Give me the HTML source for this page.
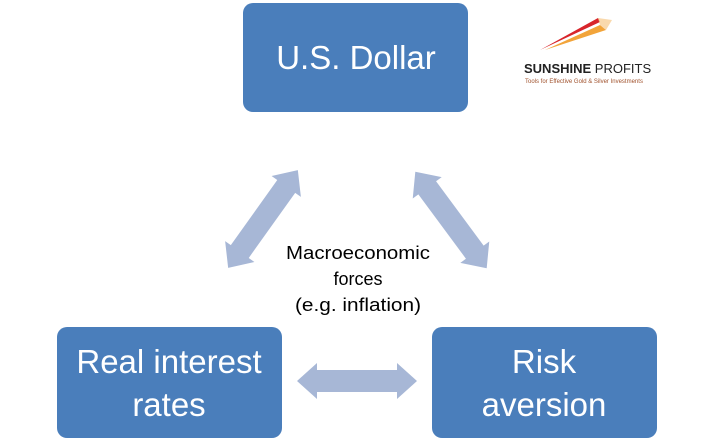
<!DOCTYPE html>
<html><head><style>
body{margin:0;background:#fff;width:713px;height:448px;overflow:hidden}
svg{display:block}
</style></head><body>
<svg width="713" height="448" xmlns="http://www.w3.org/2000/svg">
<defs>
<polygon id="da" points="-60,0 -40,-18 -40,-11 40,-11 40,-18 60,0 40,18 40,11 -40,11 -40,18" fill="#a7b7d6"/>
</defs>
<rect x="243" y="3" width="225" height="109" rx="10" fill="#4a7ebb"/>
<rect x="57" y="327" width="225" height="111" rx="10" fill="#4a7ebb"/>
<rect x="432" y="327" width="225" height="111" rx="10" fill="#4a7ebb"/>
<g font-family="Liberation Sans, sans-serif" fill="#fff" font-size="33" text-anchor="middle">
<text x="356" y="69">U.S. Dollar</text>
<text x="169" y="373">Real interest</text>
<text x="169" y="416">rates</text>
<text x="544" y="373">Risk</text>
<text x="544" y="416">aversion</text>
</g>
<use href="#da" transform="translate(357,381)"/>
<use href="#da" transform="translate(263,219) rotate(-54.5)"/>
<use href="#da" transform="translate(451,220) rotate(53.5)"/>
<g font-family="Liberation Sans, sans-serif" fill="#000" font-size="18" text-anchor="middle">
<text x="358" y="259" textLength="144" lengthAdjust="spacingAndGlyphs">Macroeconomic</text>
<text x="358" y="285">forces</text>
<text x="358" y="311" textLength="126" lengthAdjust="spacingAndGlyphs">(e.g. inflation)</text>
</g>
<g>
<polygon points="540,50 598,18 600,22" fill="#d8252b"/>
<polygon points="545,50 600,25 606,30" fill="#f2a43a"/>
<polygon points="598,18 612,20 606,30 600,25" fill="#f6c98a" opacity="0.7"/>
<text x="524" y="73" font-family="Liberation Sans, sans-serif" font-weight="bold" font-size="13" fill="#222">SUNSHINE <tspan font-weight="normal">PROFITS</tspan></text>
<text x="525" y="83" font-family="Liberation Sans, sans-serif" font-size="6" fill="#a0522d">Tools for Effective Gold &amp; Silver Investments</text>
</g>
</svg>
</body></html>
